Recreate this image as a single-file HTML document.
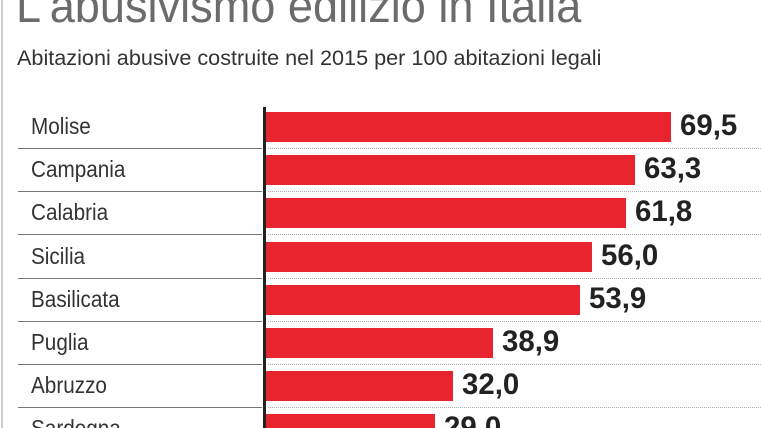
<!DOCTYPE html><html><head><meta charset="utf-8"><style>
html,body{margin:0;width:761px;height:428px;overflow:hidden;background:#fff;font-family:"Liberation Sans",sans-serif}
#w{position:relative;width:761px;height:428px;overflow:hidden}
.t{position:absolute;left:16px;top:-22px;font-size:47px;color:#6b6b6b;white-space:nowrap;transform:scaleX(0.96);transform-origin:left}
.s{position:absolute;left:17px;top:47px;font-size:21px;color:#333;white-space:nowrap;transform:scaleX(1.03);transform-origin:left}
.lb{position:absolute;left:31px;font-size:23px;color:#333;transform:scaleX(0.9);transform-origin:left}
.sep{position:absolute;left:18px;width:244px;height:1px;background:#777}
.dot{position:absolute;left:268px;width:493px;border-top:1px dotted #aaa}
.bar{position:absolute;left:266px;height:30px;background:#e8252e}
.v{position:absolute;font-size:30px;font-weight:bold;color:#222;transform:scaleX(0.98);transform-origin:left}
</style></head><body><div id="w">
<div style="position:absolute;left:1px;top:0;width:2px;height:428px;background:#ccc"></div>
<div class="t">L'abusivismo edilizio in Italia</div>
<div class="s">Abitazioni abusive costruite nel 2015 per 100 abitazioni legali</div>
<div style="position:absolute;left:263px;top:107px;width:3px;height:321px;background:#222"></div>
<script>
var d=[["Molise",69.5,"69,5"],["Campania",63.3,"63,3"],["Calabria",61.8,"61,8"],["Sicilia",56.0,"56,0"],["Basilicata",53.9,"53,9"],["Puglia",38.9,"38,9"],["Abruzzo",32.0,"32,0"],["Sardegna",29.0,"29,0"]];
var h="";d.forEach(function(r,i){var c=127+i*43.2,w=r[1]*5.83;
h+='<div class="lb" style="top:'+(c-14)+'px">'+r[0]+'</div>';
h+='<div class="sep" style="top:'+(c+21)+'px"></div><div class="dot" style="top:'+(c+21)+'px"></div>';
h+='<div class="bar" style="top:'+(c-15)+'px;width:'+w+'px"></div>';
h+='<div class="v" style="top:'+(c-18)+'px;left:'+(266+w+9)+'px">'+r[2]+'</div>';});
document.write(h);
</script>
</div></body></html>
